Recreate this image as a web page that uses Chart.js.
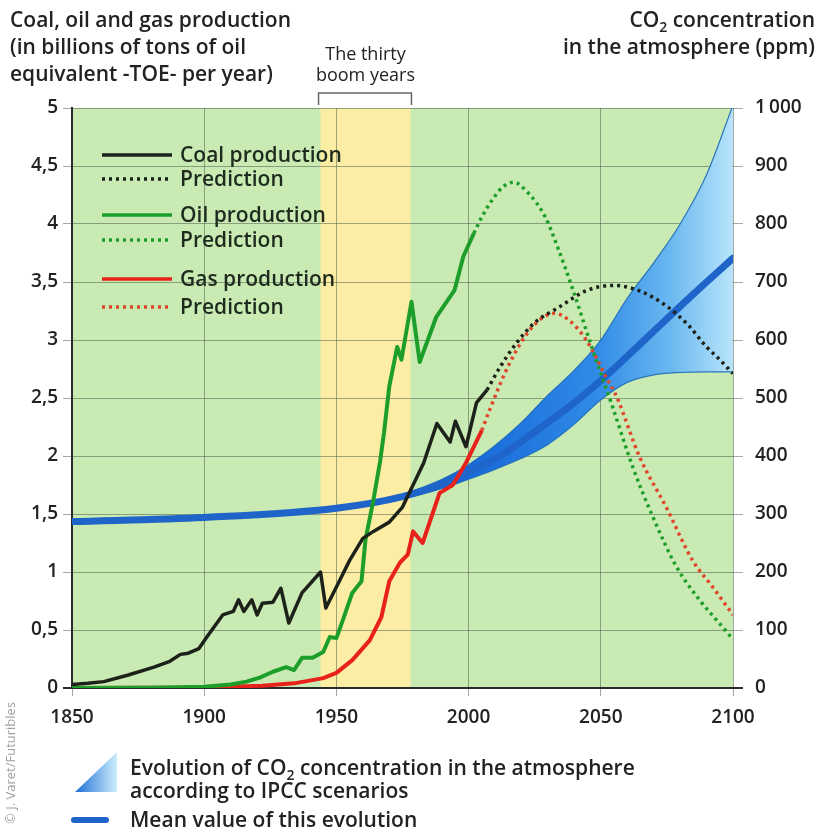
<!DOCTYPE html>
<html>
<head>
<meta charset="utf-8">
<title>Coal, oil and gas production and CO2 concentration</title>
<script src="https://cdn.jsdelivr.net/npm/chart.js@4.4.1/dist/chart.umd.min.js"></script>
<style>
  html, body { margin: 0; padding: 0; background: #fff; }
  #wrap { position: relative; width: 819px; height: 830px; }
</style>
</head>
<body>
<div id="wrap"><canvas id="energyChart" width="819" height="830"></canvas></div>
<script>
// ---- data ----
// production in billions of TOE per year (left axis)
const coalYears  = [1850, 1856, 1862, 1871, 1881, 1887, 1891, 1894, 1898, 1901, 1907, 1911, 1913, 1915, 1918, 1920, 1922, 1926, 1929, 1932, 1937, 1944, 1946, 1950, 1955, 1960, 1964, 1970, 1975, 1983, 1988, 1993, 1995, 1999, 2003, 2007];
const coalValues = [0.03, 0.04, 0.055, 0.11, 0.18, 0.23, 0.29, 0.30, 0.34, 0.44, 0.63, 0.66, 0.76, 0.66, 0.76, 0.63, 0.73, 0.74, 0.86, 0.56, 0.82, 1.0, 0.69, 0.87, 1.10, 1.29, 1.35, 1.43, 1.56, 1.94, 2.28, 2.12, 2.30, 2.08, 2.46, 2.57];
const coalPredYears  = [2007, 2012, 2018, 2025, 2034, 2045, 2055, 2065, 2075, 2083, 2090, 2095, 2100];
const coalPredValues = [2.57, 2.77, 2.97, 3.15, 3.28, 3.43, 3.47, 3.42, 3.29, 3.13, 2.94, 2.83, 2.71];

const oilYears  = [1850, 1880, 1900, 1910, 1916, 1921, 1926, 1931, 1934, 1937, 1941, 1945, 1947.5, 1950, 1952.5, 1956, 1959.5, 1961, 1964, 1966.5, 1968, 1970, 1973, 1974.6, 1978.4, 1981.5, 1987.8, 1994.7, 1998, 2002];
const oilValues = [0, 0.002, 0.01, 0.03, 0.055, 0.09, 0.14, 0.18, 0.155, 0.26, 0.26, 0.31, 0.44, 0.43, 0.59, 0.82, 0.92, 1.28, 1.62, 1.95, 2.2, 2.6, 2.94, 2.83, 3.33, 2.81, 3.20, 3.43, 3.72, 3.92];
const oilPredYears  = [2002, 2005, 2009, 2013, 2017, 2022, 2029, 2034, 2039.5, 2047, 2054.5, 2062, 2069.6, 2078.5, 2087.3, 2094, 2100];
const oilPredValues = [3.92, 4.06, 4.21, 4.32, 4.36, 4.28, 4.06, 3.78, 3.43, 2.91, 2.42, 1.91, 1.48, 1.05, 0.76, 0.58, 0.42];

const gasYears  = [1850, 1900, 1922, 1934, 1945, 1950, 1956, 1962.6, 1967, 1970, 1974, 1977, 1979, 1982.6, 1989, 1994, 1999, 2005];
const gasValues = [0, 0.005, 0.02, 0.04, 0.085, 0.13, 0.24, 0.41, 0.61, 0.92, 1.08, 1.15, 1.35, 1.25, 1.68, 1.75, 1.94, 2.22];
const gasPredYears  = [2005, 2008, 2015.5, 2024, 2032.6, 2038, 2044.5, 2052, 2056, 2064.7, 2074.7, 2084.7, 2092, 2100];
const gasPredValues = [2.22, 2.4, 2.8, 3.11, 3.23, 3.17, 3.0, 2.68, 2.51, 1.99, 1.56, 1.10, 0.88, 0.63];

// CO2 concentration in ppm (right axis)
const co2Years = [1850, 1900, 1950, 1975, 1990, 2000, 2010, 2020, 2030, 2040, 2050, 2060, 2070, 2080, 2090, 2100];
const co2Mean  = [287, 294, 310, 330, 352, 372, 395, 425, 458, 492, 530, 572, 615, 658, 700, 741];
const co2High  = [287, 294, 310, 334, 360, 385, 418, 458, 505, 548, 600, 672, 733, 800, 885, 1005];
const co2Low   = [287, 294, 310, 326, 344, 360, 377, 396, 420, 455, 497, 527, 540, 544, 545, 545];

// "the thirty boom years" band
const boomYears = [1944, 1978];

// axis ticks
const yearTicks = [1850, 1900, 1950, 2000, 2050, 2100];

const fontFamily = '"Open Sans", "DejaVu Sans", sans-serif';
const textColor = '#222';
const plotGreen = '#c9ebb3';
const boomYellow = '#fbeda4';
const gridColor = 'rgba(70, 85, 70, 0.5)';
const labelSize = 21;

// helper: zip years and values into {x, y} points
function pts(years, values) {
    return years.map((yr, i) => ({ x: yr, y: values[i] }));
}

// gradient for the IPCC band
function bandGradient(chart) {
    const { ctx, chartArea, scales } = chart;
    if (!chartArea) return '#3a8ee0';
    const g = ctx.createLinearGradient(scales.x.getPixelForValue(1995), 0, chartArea.right, 0);
    g.addColorStop(0, '#1565d8');
    g.addColorStop(0.5, '#2f8ae6');
    g.addColorStop(0.78, '#6cb9f0');
    g.addColorStop(1, '#b8e4fa');
    return g;
}

// text with a subscript "2" in CO2
function drawRich(ctx, segments, x, y, align, size) {
    const big = '600 ' + size + 'px ' + fontFamily;
    const small = '600 ' + Math.round(size * 0.68) + 'px ' + fontFamily;
    let total = 0;
    segments.forEach(s => {
        ctx.font = s.sub ? small : big;
        s.w = ctx.measureText(s.t).width;
        total += s.w;
    });
    let cx = align === 'right' ? x - total : x;
    ctx.textAlign = 'left';
    segments.forEach(s => {
        ctx.font = s.sub ? small : big;
        ctx.fillText(s.t, cx, s.sub ? y + size * 0.25 : y);
        cx += s.w;
    });
}

const lineBase = { pointRadius: 0, pointHoverRadius: 0, borderJoinStyle: 'round', order: 0 };

const datasets = [
    Object.assign({}, lineBase, { label: 'Coal production', data: pts(coalYears, coalValues), borderColor: '#1c2119', borderWidth: 3.5, yAxisID: 'y' }),
    Object.assign({}, lineBase, { label: 'Prediction', data: pts(coalPredYears, coalPredValues), borderColor: '#1c2119', borderWidth: 3.5, borderDash: [3, 4], cubicInterpolationMode: 'monotone', yAxisID: 'y' }),
    Object.assign({}, lineBase, { label: 'Oil production', data: pts(oilYears, oilValues), borderColor: '#1d9e2b', borderWidth: 4, yAxisID: 'y' }),
    Object.assign({}, lineBase, { label: 'Prediction', data: pts(oilPredYears, oilPredValues), borderColor: '#1d9e2b', borderWidth: 3.5, borderDash: [3, 4], cubicInterpolationMode: 'monotone', yAxisID: 'y' }),
    Object.assign({}, lineBase, { label: 'Gas production', data: pts(gasYears, gasValues), borderColor: '#e8211b', borderWidth: 4, yAxisID: 'y' }),
    Object.assign({}, lineBase, { label: 'Prediction', data: pts(gasPredYears, gasPredValues), borderColor: '#e0452a', borderWidth: 3.5, borderDash: [3, 4], cubicInterpolationMode: 'monotone', yAxisID: 'y' }),
    // IPCC band: upper edge filled down to the lower edge
    { label: 'CO2 high', data: pts(co2Years, co2High), yAxisID: 'y2', pointRadius: 0, borderColor: 'rgba(25, 105, 185, 0.9)', borderWidth: 1.2,
      cubicInterpolationMode: 'monotone', fill: '+1', backgroundColor: (c) => bandGradient(c.chart), order: 3 },
    { label: 'CO2 low', data: pts(co2Years, co2Low), yAxisID: 'y2', pointRadius: 0, borderColor: 'rgba(25, 105, 185, 0.9)', borderWidth: 1.2,
      cubicInterpolationMode: 'monotone', fill: false, order: 2 },
    { label: 'CO2 mean', data: pts(co2Years, co2Mean), yAxisID: 'y2', pointRadius: 0, borderColor: '#1f64c8', borderWidth: 7,
      borderCapStyle: 'round', cubicInterpolationMode: 'monotone', fill: false, order: 1 }
];

// background, boom band, titles and legends
const decorations = {
    id: 'decorations',
    beforeDraw(chart) {
        const { ctx, chartArea: a, scales } = chart;
        ctx.save();
        ctx.fillStyle = plotGreen;
        ctx.fillRect(a.left, a.top, a.width, a.height);
        const x0 = scales.x.getPixelForValue(boomYears[0]);
        const x1 = scales.x.getPixelForValue(boomYears[1]);
        ctx.fillStyle = boomYellow;
        ctx.fillRect(x0, a.top, x1 - x0, a.height);

        // bracket above the band
        ctx.strokeStyle = '#666';
        ctx.lineWidth = 1.5;
        ctx.beginPath();
        ctx.moveTo(x0 - 2, a.top - 3);
        ctx.lineTo(x0 - 2, a.top - 15);
        ctx.lineTo(x1 + 1, a.top - 15);
        ctx.lineTo(x1 + 1, a.top - 3);
        ctx.stroke();

        ctx.fillStyle = textColor;
        ctx.font = '500 18px ' + fontFamily;
        ctx.textAlign = 'center';
        const mid = (x0 + x1) / 2;
        ctx.fillText('The thirty', mid, 60);
        ctx.fillText('boom years', mid, 81);

        // left title
        ctx.textAlign = 'left';
        ctx.font = '600 ' + labelSize + 'px ' + fontFamily;
        ctx.fillText('Coal, oil and gas production', 10, 27);
        ctx.fillText('(in billions of tons of oil', 10, 54);
        ctx.fillText('equivalent -TOE- per year)', 10, 81);

        // right title
        drawRich(ctx, [{ t: 'CO' }, { t: '2', sub: true }, { t: ' concentration' }], 815, 27, 'right', labelSize);
        ctx.textAlign = 'right';
        ctx.font = '600 ' + labelSize + 'px ' + fontFamily;
        ctx.fillText('in the atmosphere (ppm)', 815, 54);
        ctx.restore();
    },
    afterDraw(chart) {
        const { ctx } = chart;
        ctx.save();

        // legend inside the plot
        const rows = [155, 179, 215, 240, 279, 307];
        for (let i = 0; i < 6; i++) {
            const ds = chart.data.datasets[i];
            ctx.strokeStyle = ds.borderColor;
            ctx.lineWidth = 3.5;
            ctx.setLineDash(ds.borderDash || []);
            ctx.beginPath();
            ctx.moveTo(102, rows[i]);
            ctx.lineTo(172, rows[i]);
            ctx.stroke();
            ctx.setLineDash([]);
            ctx.fillStyle = '#1e2a1e';
            ctx.font = '600 ' + labelSize + 'px ' + fontFamily;
            ctx.textAlign = 'left';
            ctx.fillText(ds.label, 180, rows[i] + 7);
        }

        // legend below the chart
        const tri = ctx.createLinearGradient(75, 0, 117, 0);
        tri.addColorStop(0, '#1f6fd6');
        tri.addColorStop(1, '#cdeefc');
        ctx.fillStyle = tri;
        ctx.beginPath();
        ctx.moveTo(75, 792);
        ctx.lineTo(117, 792);
        ctx.lineTo(117, 752);
        ctx.closePath();
        ctx.fill();

        ctx.fillStyle = textColor;
        drawRich(ctx, [{ t: 'Evolution of CO' }, { t: '2', sub: true }, { t: ' concentration in the atmosphere' }], 130, 775, 'left', labelSize);
        ctx.font = '600 ' + labelSize + 'px ' + fontFamily;
        ctx.textAlign = 'left';
        ctx.fillText('according to IPCC scenarios', 130, 798);
        ctx.fillText('Mean value of this evolution', 130, 827);

        ctx.strokeStyle = '#1f64c8';
        ctx.lineWidth = 6;
        ctx.lineCap = 'round';
        ctx.beginPath();
        ctx.moveTo(74, 820);
        ctx.lineTo(106, 820);
        ctx.stroke();

        // credit, written upwards along the left edge
        ctx.translate(15, 824);
        ctx.rotate(-Math.PI / 2);
        ctx.fillStyle = '#a0a0a0';
        ctx.font = '400 13px ' + fontFamily;
        ctx.textAlign = 'left';
        ctx.fillText('\u00A9 J. Varet/Futuribles', 0, 0);
        ctx.restore();
    }
};

const tickFont = { family: fontFamily, size: 19, weight: '600' };
const zeroDark = (c) => (c.tick && c.tick.value === 0 ? '#2b2b2b' : gridColor);
const zeroWide = (c) => (c.tick && c.tick.value === 0 ? 2 : 1);

new Chart(document.getElementById('energyChart'), {
    type: 'line',
    data: { datasets: datasets },
    options: {
        responsive: false,
        animation: false,
        devicePixelRatio: 1,
        layout: { padding: { top: 108, bottom: 102, left: 0, right: 0 } },
        plugins: {
            legend: { display: false },
            tooltip: { enabled: false }
        },
        scales: {
            x: {
                type: 'linear',
                min: 1850,
                max: 2100,
                afterBuildTicks: (s) => { s.ticks = yearTicks.map(v => ({ value: v })); },
                ticks: { font: tickFont, color: textColor, padding: 10, maxRotation: 0, autoSkip: false, callback: (v) => String(v) },
                grid: { color: gridColor, tickLength: 8 },
                border: { color: '#2b2b2b', width: 2 },
                afterFit: (s) => { s.height = 40; }
            },
            y: {
                position: 'left',
                min: 0,
                max: 5,
                ticks: { stepSize: 0.5, font: tickFont, color: textColor, padding: 5, callback: (v) => String(v).replace('.', ',') },
                grid: { color: zeroDark, lineWidth: zeroWide, tickLength: 9 },
                border: { color: '#2b2b2b', width: 2 },
                afterFit: (s) => { s.width = 72; }
            },
            y2: {
                position: 'right',
                min: 0,
                max: 1000,
                ticks: { stepSize: 100, font: tickFont, color: textColor, padding: 12, callback: (v) => (v === 1000 ? '1\u2009000' : String(v)) },
                grid: { drawOnChartArea: false, color: zeroDark, lineWidth: zeroWide, tickLength: 10 },
                border: { display: false },
                afterFit: (s) => { s.width = 86; }
            }
        }
    },
    plugins: [decorations]
});
</script>
</body>
</html>
